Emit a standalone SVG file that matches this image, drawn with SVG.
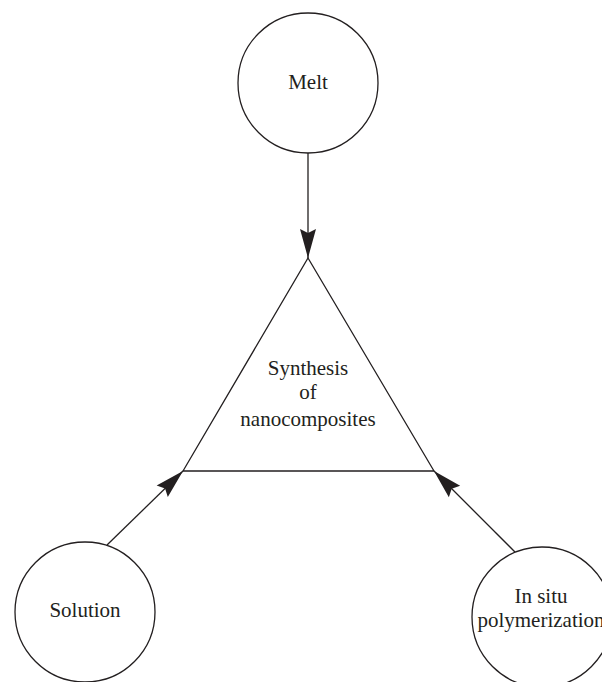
<svg xmlns="http://www.w3.org/2000/svg" width="602" height="682" viewBox="0 0 602 682">
<defs>
<style>
.node{fill:#fff;stroke:#231f20;stroke-width:1.3}
.lbl{font-family:"Liberation Serif","Times New Roman",serif;font-size:21px;fill:#231f20;text-anchor:middle}
.conn{stroke:#231f20;stroke-width:1.3;fill:none}
</style>
<marker id="ah" markerUnits="userSpaceOnUse" markerWidth="32" markerHeight="20" viewBox="-31 -10 32 20" refX="0" refY="0" orient="auto">
<path d="M0,0 L-29,-8 L-25,0 L-29,8 Z" fill="#231f20"/>
</marker>
</defs>
<rect width="602" height="682" fill="#fff"/>
<g id="connectors">
<line class="conn" x1="308" y1="153" x2="308" y2="258" marker-end="url(#ah)"/>
<line class="conn" x1="107" y1="545" x2="183" y2="471" marker-end="url(#ah)"/>
<line class="conn" x1="515" y1="552" x2="434" y2="471" marker-end="url(#ah)"/>
</g>
<g id="synthesis">
<polygon class="node" points="308,258 434,471 183,471"/>
<text class="lbl" x="308" y="375">Synthesis</text>
<text class="lbl" x="308" y="399">of</text>
<text class="lbl" x="308" y="426">nanocomposites</text>
</g>
<g id="melt">
<circle class="node" cx="308" cy="83" r="70"/>
<text class="lbl" x="308" y="89">Melt</text>
</g>
<g id="solution">
<circle class="node" cx="85" cy="612" r="70"/>
<text class="lbl" x="85" y="617">Solution</text>
</g>
<g id="insitu">
<circle class="node" cx="542" cy="617" r="70"/>
<text class="lbl" x="541" y="603">In situ</text>
<text class="lbl" x="541" y="627">polymerization</text>
</g>
</svg>
